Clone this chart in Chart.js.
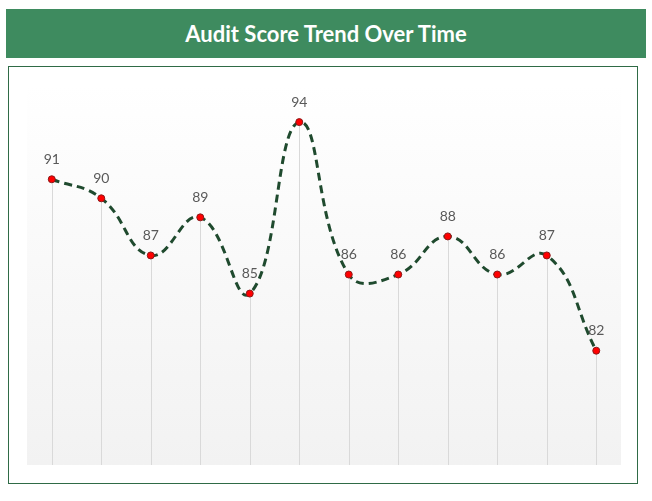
<!DOCTYPE html>
<html>
<head>
<meta charset="utf-8">
<script src="https://cdn.jsdelivr.net/npm/chart.js@4"></script>
<style>
  html, body { margin: 0; padding: 0; background: #fff; }
  body { width: 652px; height: 501px; position: relative; overflow: hidden; }
  .banner {
    position: absolute; left: 6px; top: 9px; width: 640px; height: 49px;
    background: #3e8b5f; color: #fff;
    font: bold 22px Lato, sans-serif;
    display: flex; align-items: center; justify-content: center;
  }
  .box {
    position: absolute; left: 8px; top: 66px; width: 628px; height: 416px;
    border: 1px solid #2f6b46;
  }
  #chart { position: absolute; left: 0; top: 0; }
</style>
</head>
<body>
<div class="banner">Audit Score Trend Over Time</div>
<div class="box"></div>
<canvas id="chart" width="652" height="501"></canvas>
<script>
const periods = ["Jan", "Feb", "Mar", "Apr", "May", "Jun", "Jul", "Aug", "Sep", "Oct", "Nov", "Dec"];
const scores = [91, 90, 87, 89, 85, 94, 86, 86, 88, 86, 87, 82];

const plotBackdrop = {
    id: "plotBackdrop",
    beforeDraw(chart) {
        const { ctx, chartArea: a } = chart;
        const g = ctx.createLinearGradient(0, a.top, 0, a.bottom);
        g.addColorStop(0, "#ffffff");
        g.addColorStop(1, "#f2f2f2");
        ctx.save();
        ctx.fillStyle = g;
        ctx.fillRect(a.left, a.top, a.right - a.left, a.bottom - a.top);
        ctx.restore();
    },
    beforeDatasetsDraw(chart) {
        // drop lines from each point down to the bottom
        const { ctx, chartArea: a } = chart;
        const meta = chart.getDatasetMeta(0);
        ctx.save();
        ctx.strokeStyle = "#d9d9d9";
        ctx.lineWidth = 1;
        meta.data.forEach(p => {
            const x = Math.round(p.x) + 0.5;
            ctx.beginPath();
            ctx.moveTo(x, p.y);
            ctx.lineTo(x, a.bottom);
            ctx.stroke();
        });
        ctx.restore();
    },
    afterDatasetsDraw(chart) {
        const { ctx } = chart;
        const meta = chart.getDatasetMeta(0);
        ctx.save();
        ctx.fillStyle = "#595959";
        ctx.font = "14px Lato, sans-serif";
        ctx.textAlign = "center";
        ctx.textBaseline = "middle";
        meta.data.forEach((p, i) => {
            ctx.fillText(String(scores[i]), p.x, p.y - 20);
        });
        ctx.restore();
    }
};

new Chart(document.getElementById("chart"), {
    type: "line",
    data: {
        labels: periods,
        datasets: [{
            data: scores,
            borderColor: "#1f4a2e",
            borderWidth: 3,
            borderDash: [8, 5],
            tension: 0.45,
            pointRadius: 3.5,
            pointBackgroundColor: "#ff0000",
            pointBorderColor: "#8b1a1a",
            pointBorderWidth: 1,
            fill: false
        }]
    },
    options: {
        responsive: false,
        animation: false,
        layout: { padding: { left: 27, right: 31, top: 84, bottom: 36 } },
        plugins: { legend: { display: false }, tooltip: { enabled: false } },
        scales: {
            x: { type: "category", offset: true, display: false },
            y: { min: 76, max: 96, display: false }
        }
    },
    plugins: [plotBackdrop]
});
</script>
</body>
</html>
